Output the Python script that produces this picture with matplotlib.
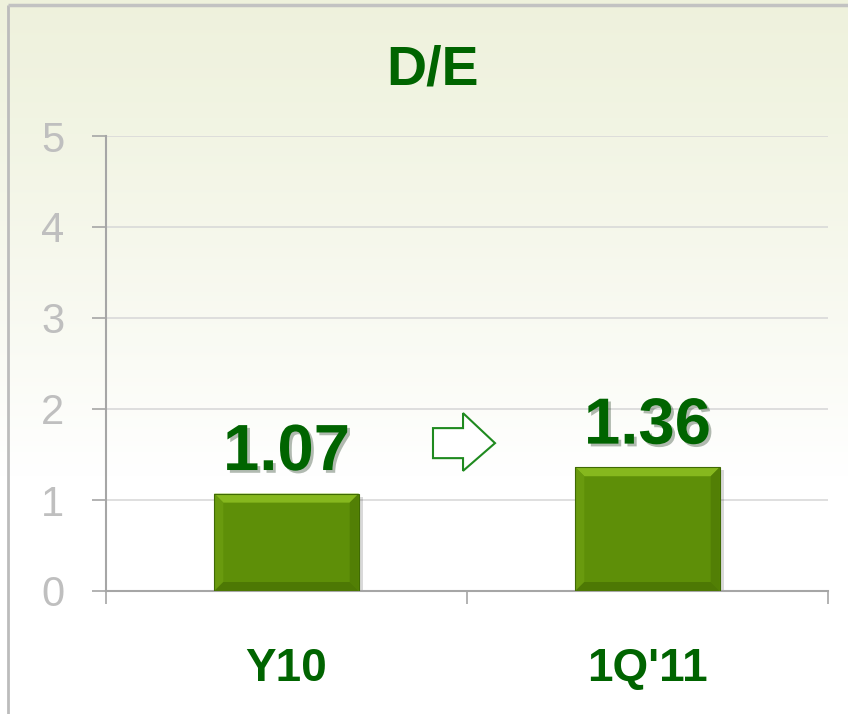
import numpy as np
import matplotlib
matplotlib.use("Agg")
import matplotlib.pyplot as plt
from matplotlib.patches import Polygon
import matplotlib.patheffects as pe

categories = ["Y10", "1Q'11"]
values = [1.07, 1.36]
labels = ["1.07", "1.36"]
yticks = [0, 1, 2, 3, 4, 5]
title = "D/E"

GREEN_TXT = "#006400"
plt.rcParams['font.family'] = ['Liberation Sans', 'DejaVu Sans']

fig = plt.figure(figsize=(8.48, 7.14), dpi=100)

# background gradient
bg = fig.add_axes([0, 0, 1, 1], zorder=-10)
grad = np.linspace(0, 1, 256).reshape(-1, 1)
top = np.array([0.935, 0.947, 0.865])
bot = np.array([1.0, 1.0, 1.0])
w = np.clip(grad * 1.5, 0, 1) ** 1.2
img = top[None, None, :] * (1 - w[:, :, None]) + bot[None, None, :] * w[:, :, None]
bg.imshow(img, aspect='auto', extent=[0, 1, 0, 1], origin='upper')
bg.set_xlim(0, 1); bg.set_ylim(0, 1)
bg.axis('off')
# frame lines (left and top)
bg.plot([8/848, 8/848], [0, 1 - 5/714], color="#bcbcbc", lw=2, solid_capstyle='butt')
bg.plot([8/848, 1], [1 - 5/714, 1 - 5/714], color="#c2c2c2", lw=2.5, solid_capstyle='butt')

ax = fig.add_axes([106/848, 1 - 591/714, (828 - 106)/848, (591 - 136)/714])
ax.set_facecolor('none')
x = np.arange(len(categories))
bw = 0.4
ax.set_xlim(-0.5, len(categories) - 0.5)
ax.set_ylim(0, 5)

ax.set_yticks(yticks)
ax.set_yticklabels([str(t) for t in yticks])
ax.yaxis.grid(True, color="#d9d9d9", lw=1.2)
ax.set_axisbelow(True)
ax.tick_params(axis='y', direction='out', length=10, width=1.2, color="#a6a6a6",
               labelsize=30, labelcolor="#bfbfbf", pad=20)
ax.set_xticks(np.arange(len(categories) + 1) - 0.5)
ax.set_xticklabels([])
ax.tick_params(axis='x', which='major', direction='out', length=9, width=1.2, color="#a6a6a6")
ax.set_xticks(x, minor=True)
ax.set_xticklabels(categories, minor=True)
ax.tick_params(axis='x', which='minor', length=0, labelsize=33, labelcolor=GREEN_TXT, pad=40)
for t in ax.get_xticklabels(minor=True):
    t.set_fontweight('bold')
for s in ['top', 'right']:
    ax.spines[s].set_visible(False)
for s in ['left', 'bottom']:
    ax.spines[s].set_color("#a6a6a6")
    ax.spines[s].set_linewidth(1.5)

fig.canvas.draw()
# pixel -> data scale
px_x = 1.0 / (ax.transData.transform((1, 0))[0] - ax.transData.transform((0, 0))[0])
px_y = 1.0 / (ax.transData.transform((0, 1))[1] - ax.transData.transform((0, 0))[1])
bev_x = 9 * px_x
bev_y = 9 * px_y

for xi, v, lab in zip(x, values, labels):
    x0, x1 = xi - bw / 2, xi + bw / 2
    # shadow
    ax.add_patch(Polygon([(x0 + 3 * px_x, -3 * px_y), (x1 + 4 * px_x, -3 * px_y),
                          (x1 + 4 * px_x, v - 3 * px_y), (x0 + 3 * px_x, v - 3 * px_y)],
                         closed=True, facecolor="#000000", alpha=0.15, lw=0, zorder=2))
    ax.bar(xi, v, width=bw, color="#5e8f08", edgecolor="none", zorder=3)
    # bevels
    ax.add_patch(Polygon([(x0, v), (x1, v), (x1 - bev_x, v - bev_y), (x0 + bev_x, v - bev_y)],
                         closed=True, facecolor="#86b81e", lw=0, zorder=4))
    ax.add_patch(Polygon([(x0, 0), (x0, v), (x0 + bev_x, v - bev_y), (x0 + bev_x, bev_y)],
                         closed=True, facecolor="#699a0e", lw=0, zorder=4))
    ax.add_patch(Polygon([(x1, 0), (x1, v), (x1 - bev_x, v - bev_y), (x1 - bev_x, bev_y)],
                         closed=True, facecolor="#527f05", lw=0, zorder=4))
    ax.add_patch(Polygon([(x0, 0), (x1, 0), (x1 - bev_x, bev_y), (x0 + bev_x, bev_y)],
                         closed=True, facecolor="#4d7804", lw=0, zorder=4))
    ax.add_patch(Polygon([(x0, 0), (x1, 0), (x1, v), (x0, v)], closed=True,
                         facecolor='none', edgecolor="#3f6a03", lw=0.8, zorder=5))
    ax.annotate(lab, (xi, v), xytext=(0, 17), textcoords='offset points',
                ha='center', va='baseline', fontsize=47, fontweight='bold', color=GREEN_TXT,
                zorder=6,
                path_effects=[pe.SimplePatchShadow(offset=(2, -2), alpha=0.3), pe.Normal()])

# outline arrow between bars
arrow_pts = [(0.4529, 0.358), (0.4945, 0.358), (0.4945, 0.391), (0.5388, 0.325),
             (0.4945, 0.264), (0.4945, 0.292), (0.4529, 0.292)]
ax.add_patch(Polygon(arrow_pts, closed=True, transform=ax.transAxes,
                     facecolor='white', edgecolor="#1f8a1f", lw=1.5, zorder=6))

fig.text(433/848, 1 - 85/714, title, ha='center', va='baseline', fontsize=40,
         fontweight='bold', color=GREEN_TXT)

fig.savefig("out.png", dpi=100)
